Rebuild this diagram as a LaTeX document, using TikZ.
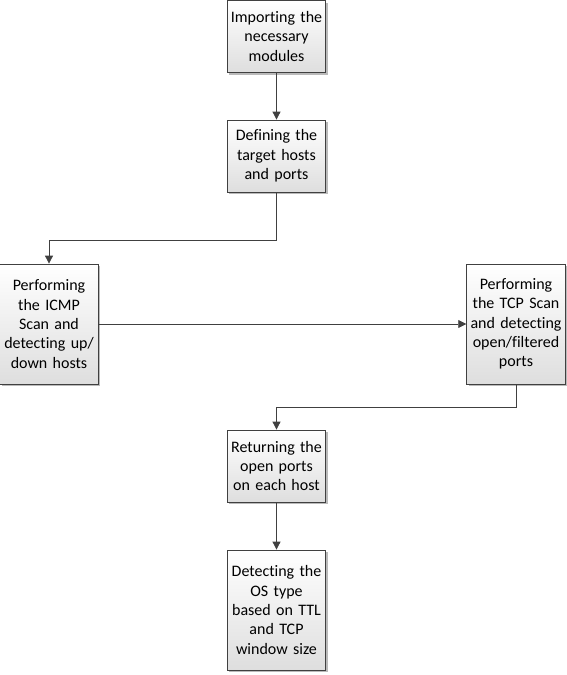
\documentclass[tikz,border=0pt]{standalone}
\usepackage{fontspec}
\setmainfont{Carlito}[Ligatures={NoCommon,NoContextual}]
\usetikzlibrary{arrows.meta,shadows,calc}
\definecolor{linec}{HTML}{404040}
\definecolor{boxbot}{HTML}{DEDEDE}
\tikzset{
  px/.style={x=0.75pt,y=-0.75pt},
  flowbox/.style={draw=linec, line width=0.6pt, top color=white, bottom color=boxbot,
    align=center, font=\fontsize{12}{14.5}\selectfont, inner sep=0pt,
    minimum width=72.75pt, text width=74pt,
    drop shadow={shadow xshift=1.5pt, shadow yshift=-1.5pt, fill=black!45, opacity=0.6}},
  shortbox/.style={flowbox, minimum height=54pt},
  tallbox/.style={flowbox, minimum height=90pt},
  conn/.style={draw=linec, line width=0.6pt, -{Triangle[length=6pt,width=6pt]}},
}
\begin{document}
\begin{tikzpicture}[px]
\useasboundingbox (0,0) rectangle (567,675);
\node[shortbox] (imp) at (276.5,36.5) {Importing the\\necessary\\modules};
\node[shortbox] (def) at (276.5,156) {Defining the\\target hosts\\and ports};
\node[tallbox] (icmp) at (49,324) {Performing\\the ICMP\\Scan and\\detecting up/\\down hosts};
\node[tallbox] (tcp) at (516,324) {Performing\\the TCP Scan\\and detecting\\open/filtered\\ports};
\node[shortbox] (ret) at (276.5,466) {Returning the\\open ports\\on each host};
\node[tallbox] (os) at (276.5,610) {Detecting the\\OS type\\based on TTL\\and TCP\\window size};
\coordinate (k1) at (276.5,240);
\coordinate (k2) at (516,407);
\draw[conn] (imp) -- (def);
\draw[conn] (def.south) |- (k1) -| (icmp.north);
\draw[conn] (icmp.east) -- (tcp.west);
\draw[conn] (tcp.south) |- (k2) -| (ret.north);
\draw[conn] (ret) -- (os);
\end{tikzpicture}
\end{document}
